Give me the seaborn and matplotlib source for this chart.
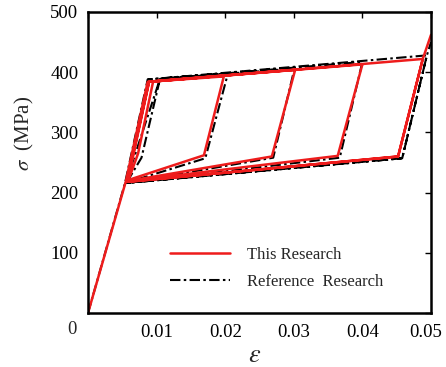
import matplotlib
matplotlib.use("Agg")
import matplotlib.pyplot as plt
import matplotlib.transforms as mtransforms
import seaborn as sns
import pandas as pd

# Cyclic stress-strain paths (strain, stress in MPa)
ref_strain = [0, 0.0054, 0.0087, 0.0204, 0.0171, 0.0055, 0.0105, 0.0301, 0.0270,
              0.0056, 0.0078, 0.0105, 0.0400, 0.0367, 0.0057, 0.0088, 0.0494,
              0.0458, 0.0056, 0.0458, 0.0494, 0.0500]
ref_stress = [0, 216, 388, 398, 257, 216, 389, 406, 258,
              216, 258, 389, 417, 258, 216, 388, 428,
              257, 216, 257, 428, 450]

this_strain = [0, 0.0055, 0.0087, 0.0198, 0.0169, 0.0059, 0.0073, 0.0095, 0.0302,
               0.0268, 0.0057, 0.0089, 0.0400, 0.0364, 0.0058, 0.0089, 0.0488,
               0.0452, 0.0058, 0.0452, 0.0488, 0.0500]
this_stress = [0, 218, 384, 393, 262, 221, 265, 385, 404,
               260, 219, 384, 413, 261, 219, 384, 422,
               260, 218, 260, 422, 462]

series_names = ["This Research", "Reference  Research"]
x_ticks = [0, 0.01, 0.02, 0.03, 0.04, 0.05]
x_tick_labels = ["", "0.01", "0.02", "0.03", "0.04", "0.05"]
y_ticks = [0, 100, 200, 300, 400, 500]
y_tick_labels = ["", "100", "200", "300", "400", "500"]

sns.set_style("white")
plt.rcParams["font.family"] = ["Liberation Serif", "DejaVu Serif"]
plt.rcParams["mathtext.fontset"] = "stix"

this_df = pd.DataFrame({"strain": this_strain, "stress": this_stress})
ref_df = pd.DataFrame({"strain": ref_strain, "stress": ref_stress})

fig = plt.figure(figsize=(4.46, 3.67), dpi=100)
ax = fig.add_axes([88 / 446, 54 / 367, 343 / 446, 301 / 367])

sns.lineplot(data=ref_df, x="strain", y="stress", sort=False, estimator=None,
             color="black", linewidth=1.5, ax=ax, label=series_names[1])
ax.lines[-1].set_dashes([5, 1.6, 1.2, 1.6])
sns.lineplot(data=this_df, x="strain", y="stress", sort=False, estimator=None,
             color="#ee1c1c", linewidth=1.8, ax=ax, label=series_names[0])

ax.set_xlim(0, 0.05)
ax.set_ylim(0, 500)
ax.set_xticks(x_ticks)
ax.set_xticklabels(x_tick_labels)
ax.set_yticks(y_ticks)
ax.set_yticklabels(y_tick_labels)
ax.tick_params(direction="in", length=4, width=1, top=True, right=True,
               labelsize=13.5, colors="black")
ax.tick_params(axis="x", pad=8)
ax.tick_params(axis="y", pad=7)
for s in ax.spines.values():
    s.set_linewidth(1.8)
    s.set_color("black")

# pull the last strain label slightly inward so it stays on the canvas
last = ax.get_xticklabels()[-1]
last.set_transform(last.get_transform() +
                   mtransforms.ScaledTranslation(-5 / 100, 0, fig.dpi_scale_trans))

ax.set_xlabel("")
ax.set_ylabel("")
fig.text(255 / 446, 1 - 356 / 367, r"$\varepsilon$", fontsize=19,
         ha="center", va="center")
fig.text(24 / 446, 1 - 133 / 367, r"$\sigma$  (MPa)", fontsize=15,
         rotation=90, ha="center", va="center")
# shared origin label
fig.text(72 / 446, 1 - 330 / 367, "0", fontsize=13.5, ha="center", va="center")

handles, labels = ax.get_legend_handles_labels()
order = [labels.index(n) for n in series_names]
ax.legend([handles[i] for i in order], [labels[i] for i in order],
          loc="upper left", bbox_to_anchor=(0.195, 0.27), frameon=False,
          fontsize=12, handlelength=3.6, handletextpad=1.0, labelspacing=0.65)

fig.savefig("out.png", dpi=100)
